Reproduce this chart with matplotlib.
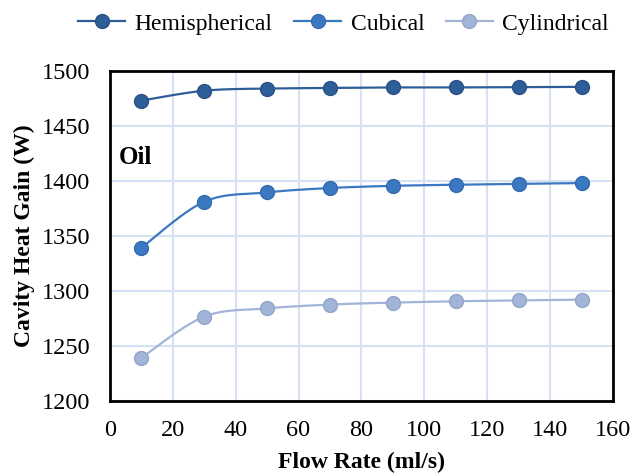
import numpy as np
import matplotlib.pyplot as plt

flow = [10, 30, 50, 70, 90, 110, 130, 150]
hemispherical = [1473, 1482, 1484, 1484.5, 1485, 1485, 1485.3, 1485.5]
cubical = [1339, 1381, 1389.5, 1393.5, 1395.5, 1396.5, 1397.3, 1398]
cylindrical = [1239, 1276.5, 1284, 1287.5, 1289.3, 1290.5, 1291.3, 1292]

labels = ['Hemispherical', 'Cubical', 'Cylindrical']
colors = ['#2E5E98', '#3B78C2', '#A2B4D8']
edges = ['#2A5288', '#346BAE', '#93A5C8']


def smooth(x, y, n=30):
    # catmull-rom through the points, like Excel's smoothed line
    x = np.asarray(x, float)
    y = np.asarray(y, float)
    px = np.concatenate([[x[0]], x, [x[-1]]])
    py = np.concatenate([[y[0]], y, [y[-1]]])
    xs, ys = [], []
    t = np.linspace(0, 1, n)
    h00 = 2 * t**3 - 3 * t**2 + 1
    h10 = t**3 - 2 * t**2 + t
    h01 = -2 * t**3 + 3 * t**2
    h11 = t**3 - t**2
    for i in range(1, len(px) - 2):
        for p, out in ((px, xs), (py, ys)):
            p0, p1, p2, p3 = p[i - 1], p[i], p[i + 1], p[i + 2]
            m1 = (p2 - p0) / 2
            m2 = (p3 - p1) / 2
            out.extend(h00 * p1 + h10 * m1 + h01 * p2 + h11 * m2)
    return xs, ys


plt.rcParams['font.family'] = ['Liberation Serif', 'DejaVu Serif']

fig = plt.figure(figsize=(6.42, 4.76), dpi=100)
ax = fig.add_axes([0.171, 0.158, 0.784, 0.693])

for ys, lab, c, ec in zip([hemispherical, cubical, cylindrical], labels, colors, edges):
    sx, sy = smooth(flow, ys)
    ax.plot(sx, sy, color=c, lw=1.6, zorder=3)
    ax.plot(flow, ys, 'o', color=c, mec=ec, ms=10, mew=1, zorder=4)
    ax.plot([], [], '-o', color=c, mec=ec, ms=10, lw=1.6, label=lab)

ax.set_xlim(0, 160)
ax.set_ylim(1200, 1500)
ax.set_xticks(range(0, 161, 20))
ax.set_yticks(range(1200, 1501, 50))
ax.grid(True, color='#D5E2F3', lw=1.5)
ax.set_axisbelow(True)
for s in ax.spines.values():
    s.set_linewidth(2)
    s.set_color('black')
ax.tick_params(length=0, labelsize=17.5)
ax.tick_params(axis='y', pad=14)
ax.tick_params(axis='x', pad=14)

ax.set_xlabel('Flow Rate (ml/s)', fontsize=17, fontweight='bold', labelpad=8)
ax.set_ylabel('Cavity Heat Gain (W)', fontsize=17, fontweight='bold', labelpad=5)
ax.text(3, 1421, 'Oil', fontsize=18, fontweight='bold', va='center')

fig.legend(loc='center', bbox_to_anchor=(0.535, 0.95), ncol=3, frameon=False,
           fontsize=17, handlelength=2.0, columnspacing=0.9, handletextpad=0.4)

fig.savefig('out.png', dpi=100)
